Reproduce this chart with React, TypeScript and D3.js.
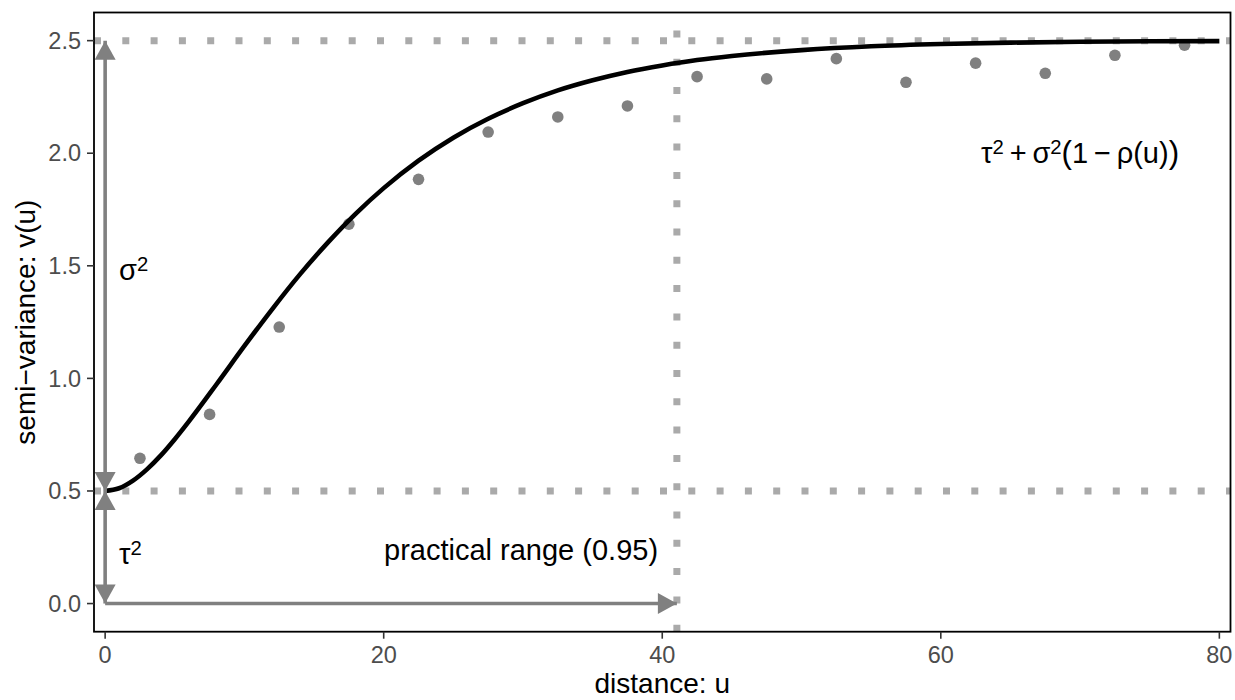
import React from "react";
import * as d3 from "d3";

// fitted semi-variogram
const curveU = [0, 1, 2, 3, 4, 5, 6, 8, 10, 12, 14, 16, 18, 20, 22.5, 25, 27.5, 30, 32.5, 35, 37.5, 40, 42.5, 45, 50, 55, 60, 65, 70, 75, 80];
const curveV = [0.5, 0.512, 0.546, 0.596, 0.658, 0.73, 0.808, 0.974, 1.144, 1.308, 1.463, 1.604, 1.732, 1.845, 1.967, 2.069, 2.153, 2.222, 2.279, 2.324, 2.361, 2.39, 2.414, 2.432, 2.458, 2.475, 2.485, 2.491, 2.495, 2.497, 2.498];

// empirical variogram bins
const binU = [2.5, 7.5, 12.5, 17.5, 22.5, 27.5, 32.5, 37.5, 42.5, 47.5, 52.5, 57.5, 62.5, 67.5, 72.5, 77.5];
const binV = [0.645, 0.84, 1.228, 1.685, 1.884, 2.094, 2.161, 2.21, 2.34, 2.33, 2.42, 2.315, 2.4, 2.355, 2.435, 2.48];

const xTicks = [0, 20, 40, 60, 80];
const yTicks = [0, 0.5, 1, 1.5, 2, 2.5];

const nugget = 0.5;
const sill = 2.5;
const practicalRange = 41.05;

const W = 1235;
const H = 700;
const panel = { left: 94, right: 1230.5, top: 12.5, bottom: 631.7 };

const font = "'Liberation Sans', Arial, Helvetica, sans-serif";
const dotGrey = "#aaaaaa";
const arrowGrey = "#808080";

const x = d3.scaleLinear().domain([-0.8, 80.8]).range([panel.left, panel.right]);
const y = d3.scaleLinear().domain([-0.125, 2.625]).range([panel.bottom, panel.top]);

const arrowHead = (x0, y0, x1, y1) => {
  const len = 19;
  const half = 10.5;
  const dx = x1 - x0;
  const dy = y1 - y0;
  const d = Math.sqrt(dx * dx + dy * dy);
  const ux = dx / d;
  const uy = dy / d;
  const bx = x1 - ux * len;
  const by = y1 - uy * len;
  return `M${x1},${y1}L${bx - uy * half},${by + ux * half}L${bx + uy * half},${by - ux * half}Z`;
};

const Arrow = ({ u0, v0, u1, v1, both }) => {
  const x0 = x(u0), y0 = y(v0), x1 = x(u1), y1 = y(v1);
  return (
    <g fill={arrowGrey} stroke="none">
      <line x1={x0} y1={y0} x2={x1} y2={y1} stroke={arrowGrey} strokeWidth={3.6} />
      <path d={arrowHead(x0, y0, x1, y1)} />
      {both && <path d={arrowHead(x1, y1, x0, y0)} />}
    </g>
  );
};

const Sup = ({ children }) => (
  <tspan fontSize="0.7em" dy={-9}>
    {children}
  </tspan>
);

const App = () => {
  const line = d3
    .line()
    .x((d) => x(d[0]))
    .y((d) => y(d[1]))
    .curve(d3.curveMonotoneX);
  const curveData = curveU.map((u, i) => [u, curveV[i]]);

  const dotted = { stroke: dotGrey, strokeWidth: 7, strokeDasharray: "7 21.3", fill: "none" };

  return (
    <svg width={W} height={H} style={{ position: "absolute", left: 0, top: 0, background: "#fff" }} fontFamily={font}>
      <rect x={0} y={0} width={W} height={H} fill="#fff" />

      {/* reference lines */}
      <path d={`M${panel.left},${y(sill)}H${panel.right}`} {...dotted} />
      <path d={`M${panel.left},${y(nugget)}H${panel.right}`} {...dotted} />
      <path d={`M${x(practicalRange)},${panel.bottom}V${panel.top}`} {...dotted} />

      {binU.map((u, i) => (
        <circle key={u} cx={x(u)} cy={y(binV[i])} r={5.8} fill="#808080" />
      ))}

      <path d={line(curveData)} fill="none" stroke="#000" strokeWidth={4.6} />

      <Arrow u0={0} v0={nugget} u1={0} v1={sill} both />
      <Arrow u0={0} v0={0} u1={0} v1={nugget} both />
      <Arrow u0={0} v0={0} u1={practicalRange} v1={0} />

      {/* annotations */}
      <text x={x(1)} y={y(1.48)} dy="0.35em" fontSize={29}>
        σ<Sup>2</Sup>
      </text>
      <text x={x(1)} y={y(0.22)} dy="0.35em" fontSize={29}>
        τ<Sup>2</Sup>
      </text>
      <text x={x(39.7)} y={y(0.24)} dy="0.35em" fontSize={29} textAnchor="end">
        practical range (0.95)
      </text>
      <text x={x(70)} y={y(2)} dy="0.35em" fontSize={29} textAnchor="middle">
        τ<Sup>2</Sup>
        <tspan dy={9}>{"\u2009+\u2009"}σ</tspan>
        <Sup>2</Sup>
        <tspan dy={9} fontSize="1.08em">(</tspan>
        <tspan>{"1\u2009−\u2009ρ(u)"}</tspan>
        <tspan fontSize="1.08em">)</tspan>
      </text>

      {/* panel border */}
      <rect
        x={panel.left}
        y={panel.top}
        width={panel.right - panel.left}
        height={panel.bottom - panel.top}
        fill="none"
        stroke="#000"
        strokeWidth={1.8}
      />

      {/* y axis */}
      {yTicks.map((t) => (
        <g key={t}>
          <line x1={panel.left - 7} x2={panel.left} y1={y(t)} y2={y(t)} stroke="#333" strokeWidth={1.6} />
          <text x={panel.left - 13} y={y(t)} dy="0.35em" textAnchor="end" fontSize={23.5} fill="#4d4d4d">
            {d3.format(".1f")(t)}
          </text>
        </g>
      ))}

      {/* x axis */}
      {xTicks.map((t) => (
        <g key={t}>
          <line x1={x(t)} x2={x(t)} y1={panel.bottom} y2={panel.bottom + 7} stroke="#333" strokeWidth={1.6} />
          <text x={x(t)} y={panel.bottom + 31} textAnchor="middle" fontSize={23.5} fill="#4d4d4d">
            {t}
          </text>
        </g>
      ))}

      <text x={(panel.left + panel.right) / 2} y={693} textAnchor="middle" fontSize={28}>
        distance: u
      </text>
      <text
        transform={`translate(35,${(panel.top + panel.bottom) / 2}) rotate(-90)`}
        textAnchor="middle"
        fontSize={28}
      >
        semi−variance: v(u)
      </text>
    </svg>
  );
};

export default App;
